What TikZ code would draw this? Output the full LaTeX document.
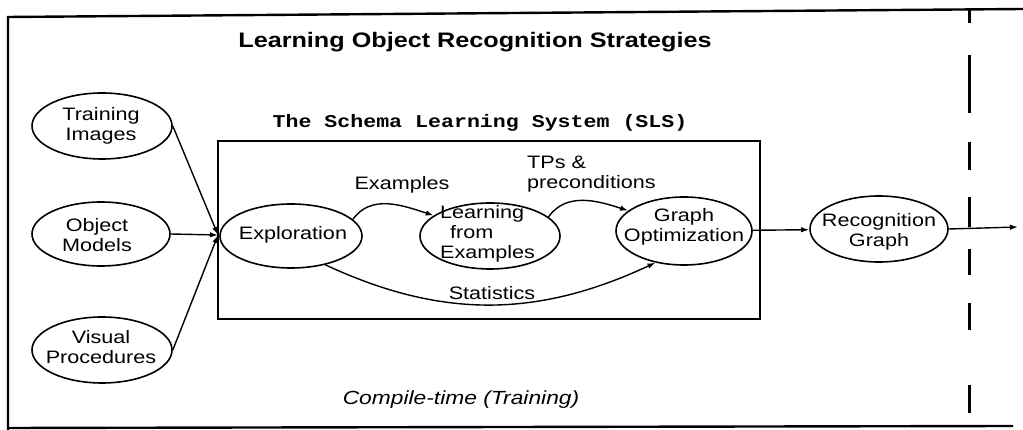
\documentclass[tikz,border=0pt]{standalone}
\usepackage{fontspec}
\setmainfont{Liberation Sans}[FakeStretch=1.2]
\setmonofont{Liberation Mono}[FakeStretch=1.2]
\usetikzlibrary{arrows.meta,shapes.geometric}

\begin{document}
\begin{tikzpicture}[x=1pt,y=1pt,
  oval/.style 2 args={draw, ellipse, line width=1.6pt, inner sep=0pt,
    minimum width=#1, minimum height=#2},
  lbl/.style={font=\fontsize{18}{20}\selectfont, align=center, inner sep=0pt},
  arr/.style={line width=1.4pt, -{Latex[length=8pt,width=5.5pt]}},
  frame/.style={line width=2.4pt},
  divider/.style={line width=3pt}
]
\useasboundingbox (0,0) rectangle (1023,430);

% outer frame, open on the right
\draw[frame] (1023,421) -- (8,413) -- (8,0);
\draw[frame] (8,2) -- (1013,4);

% dashed divider between compile time and run time
\foreach \a/\b in {421/407, 375/317, 288/260, 233/203, 181/155, 127/100, 45/17}
  \draw[divider] (969,\a) -- (969,\b);

% headings
\node[font=\fontsize{21}{24}\selectfont\bfseries, inner sep=0pt] (title) at (475,388)
  {Learning Object Recognition Strategies};
\node[font=\fontsize{18}{20}\selectfont\ttfamily\bfseries, inner sep=0pt] (sls) at (480,307)
  {The Schema Learning System (SLS)};

% the SLS box
\draw[line width=2.8pt] (218,289) rectangle (760,111);

% inputs
\node[oval={140}{66}] (tr) at (102,304) {};
\node[lbl] at (101,304) {Training\\Images};
\node[oval={138}{64}] (om) at (101,196) {};
\node[lbl] at (97,195) {Object\\Models};
\node[oval={140}{66}] (vp) at (102,80) {};
\node[lbl] at (101,83) {Visual\\Procedures};

\coordinate (conv) at (218,195);

% SLS stages
\node[oval={142}{64}] (ex) at (291,194) {};
\node[lbl] at (293,195) {Exploration};
\node[oval={140}{66}] (lf) at (490,194) {};
\node[lbl, align=left, anchor=west] at (440,196) {Learning\\\hspace*{10pt}from\\Examples};
\node[oval={136}{68}] (go) at (684,199) {};
\node[lbl] at (684,203) {Graph\\Optimization};

% output
\node[oval={138}{66}] (rg) at (879,201) {};
\node[lbl] at (879,198) {Recognition\\Graph};
\coordinate (out) at (1018,203);

% inputs converge on the SLS box
\draw[arr] (tr.east) -- (conv);
\draw[arr] (om.east) -- (conv);
\draw[arr] (vp.east) -- (conv);

% flows inside the SLS
\draw[arr] (ex.15) to[out=55,in=162] (lf.160);
\node[lbl] (exlbl) at (402,245) {Examples};
\draw[arr] (lf.18) to[out=55,in=162] (go.160);
\node[lbl, align=left, anchor=west] (tplbl) at (527,256) {TPs \&\\preconditions};
\draw[arr] (ex.-40) to[out=-25,in=205] (go.228);
\node[lbl] (stlbl) at (492,137) {Statistics};

% result
\draw[arr] (go) -- (rg);
\draw[arr] (rg.east) -- (out);

\node[lbl, font=\fontsize{19}{21}\selectfont\itshape] (ct) at (461,30) {Compile-time (Training)};
\end{tikzpicture}
\end{document}
